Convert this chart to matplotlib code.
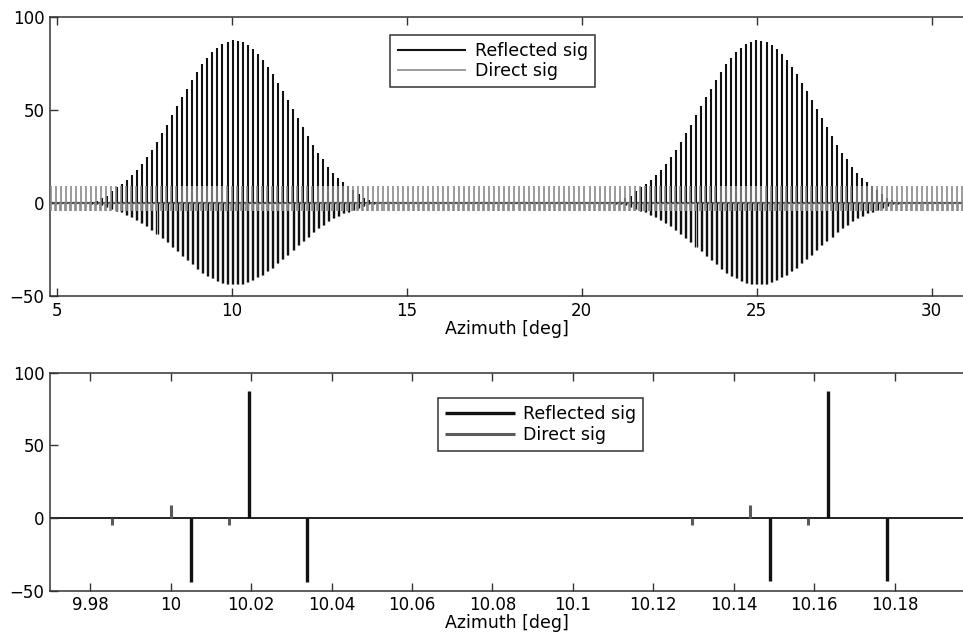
import numpy as np
import matplotlib
matplotlib.use('Agg')
import matplotlib.pyplot as plt

# pulse train
pulse_period = 0.144        # deg between pulses
direct_first = 10.0         # one direct pulse position
refl_offset = 0.0195        # reflected pulse lags direct pulse
side_offset = 0.0145        # negative side spikes around each pulse
direct_peak = 9.0
direct_trough = -4.5
trough_ratio = -0.5         # negative spikes are half of the positive one

# reflected peak amplitude per pulse, offsets -28..+28 from lobe centre
refl_env = [0.5, 1.2, 2.5, 4.0, 6.5, 8.8, 10.0, 12.4, 15.0, 17.7,
            21.0, 24.9, 28.5, 33.0, 37.5, 42.0, 47.3, 52.0, 56.8, 61.6,
            66.0, 70.6, 74.7, 78.0, 81.0, 83.5, 85.5, 86.7,
            87.5,
            87.3, 86.6, 84.8, 82.6, 80.0, 76.9, 73.3, 69.4, 64.7, 60.4,
            55.4, 50.4, 45.5, 40.7, 36.0, 31.5, 27.2, 23.5, 19.5, 16.3,
            13.6, 11.1, 9.3, 7.0, 5.0, 3.0, 1.5, 0.5]
lobe_centres = [0, 104]     # pulse index of each lobe centre
pulse_idx = np.arange(-40, 150)

xticks_top = [5, 10, 15, 20, 25, 30]
xticks_bot = [9.98, 10.0, 10.02, 10.04, 10.06, 10.08, 10.1, 10.12, 10.14, 10.16, 10.18]
yticks = [-50, 0, 50, 100]

direct_x = direct_first + pulse_idx * pulse_period
refl_x = direct_x + refl_offset
refl_amp = np.zeros(len(pulse_idx))
half = (len(refl_env) - 1) // 2
for c in lobe_centres:
    for j, a in enumerate(refl_env):
        refl_amp[pulse_idx == c + j - half] = a
m = refl_amp > 0
rx, ra = refl_x[m], refl_amp[m]


def draw(ax, c_ref, c_dir, lw_ref, lw_dir, lw_side, c_zero, lw_zero):
    ax.axhline(0, color=c_zero, lw=lw_zero, zorder=1)
    ax.vlines(rx, 0, ra, color=c_ref, lw=lw_ref, label='Reflected sig', zorder=2)
    ax.vlines(np.r_[rx - side_offset, rx + side_offset], 0,
              np.r_[ra, ra] * trough_ratio, color=c_ref, lw=lw_side, zorder=2)
    ax.vlines(direct_x, 0, direct_peak, color=c_dir, lw=lw_dir, label='Direct sig', zorder=3)
    ax.vlines(np.r_[direct_x - side_offset, direct_x + side_offset], 0, direct_trough,
              color=c_dir, lw=lw_dir, zorder=3)
    ax.set_ylim(-50, 100)
    ax.set_yticks(yticks)
    ax.spines['right'].set_visible(False)
    for s in ['left', 'top', 'bottom']:
        ax.spines[s].set_color('#333333')
        ax.spines[s].set_linewidth(1.1)
    ax.tick_params(direction='in', top=True, right=False, length=5.5, width=1,
                   color='#333333', labelsize=12, pad=4)
    ax.set_xlabel('Azimuth [deg]', fontsize=12.5, labelpad=0)


fig = plt.figure(figsize=(9.63, 6.34), dpi=100)
ax1 = fig.add_axes([0.0519, 0.533, 0.9481, 0.44])
ax2 = fig.add_axes([0.0519, 0.0683, 0.9481, 0.344])

draw(ax1, '#111111', '#8a8a8a', 1.5, 1.2, 1.0, '#555555', 1.6)
ax1.set_xlim(4.8, 30.9)
ax1.set_xticks(xticks_top)

draw(ax2, '#111111', '#5a5a5a', 2.4, 2.2, 2.4, '#222222', 1.4)
ax2.set_xlim(9.97, 10.197)
ax2.set_xticks(xticks_bot)
ax2.set_xticklabels(['%g' % t for t in xticks_bot])

for ax, anchor in [(ax1, (0.405, 0.945)), (ax2, (0.455, 0.372))]:
    leg = ax.legend(loc='upper left', bbox_to_anchor=anchor, bbox_transform=fig.transFigure,
                    fontsize=12.5, handlelength=4.0, handletextpad=0.5, labelspacing=0.15,
                    borderpad=0.4, borderaxespad=0, fancybox=False, framealpha=1)
    leg.get_frame().set_edgecolor('#333333')
    leg.get_frame().set_linewidth(1.1)

fig.savefig('out.png', dpi=100)
